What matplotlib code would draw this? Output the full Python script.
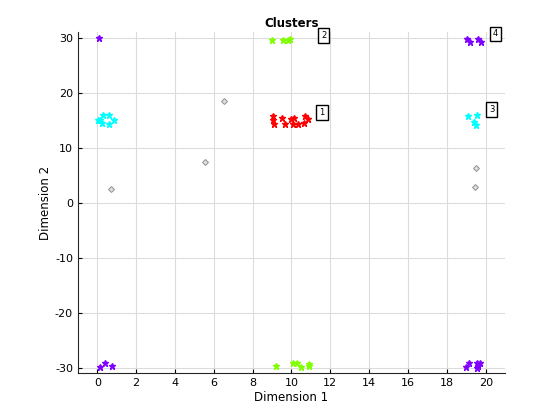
import numpy as np
import matplotlib
matplotlib.use('Agg')
import matplotlib.pyplot as plt

plt.rcParams['axes.unicode_minus'] = False
plt.rcParams['font.family'] = 'DejaVu Sans'

# cluster points (dimension 1, dimension 2)
c1_x = [9.07, 9.07, 9.1, 9.5, 9.67, 10.0, 10.14, 10.1, 10.35, 10.7, 10.87, 10.66]
c1_y = [15.7, 15.1, 14.4, 15.5, 14.3, 15.3, 15.5, 14.3, 14.3, 15.7, 15.3, 14.6]

c2_x = [9.01, 9.58, 9.84, 9.92, 9.2, 10.1, 10.3, 10.5, 10.92, 10.92]
c2_y = [29.6, 29.6, 29.6, 29.8, -29.6, -29.2, -29.2, -29.9, -29.3, -29.6]

c3_x = [0.02, 0.29, 0.58, 0.84, 0.58, 0.22, 0.12, 19.09, 19.55, 19.38, 19.48]
c3_y = [15.0, 16.0, 15.9, 15.1, 14.4, 14.5, 15.0, 15.7, 15.9, 14.7, 14.2]

c4_x = [0.1, 19.04, 19.2, 19.6, 19.78, 0.15, 0.38, 0.74,
        19.0, 19.14, 19.55, 19.7, 19.55, 19.6]
c4_y = [30.0, 29.8, 29.3, 29.8, 29.3, -29.8, -29.2, -29.6,
        -29.8, -29.2, -29.2, -29.2, -30.0, -29.6]

noise_x = [0.72, 5.55, 6.53, 19.52, 19.43]
noise_y = [2.5, 7.45, 18.5, 6.3, 2.85]

label_names = ['1', '2', '3', '4']
label_x = [11.57, 11.67, 20.3, 20.5]
label_y = [16.5, 30.4, 16.9, 30.7]

colors = ['#ff0000', '#80ff00', '#00ffff', '#8000ff']
clusters = [(c1_x, c1_y), (c2_x, c2_y), (c3_x, c3_y), (c4_x, c4_y)]

fig = plt.figure(figsize=(5.6, 4.2), dpi=100)
ax = fig.add_axes([0.139, 0.111, 0.763, 0.812])

ax.grid(True, color='#dcdcdc', linewidth=0.8)
ax.set_axisbelow(True)

ax.plot(noise_x, noise_y, linestyle='none', marker='D', markersize=3,
        markerfacecolor='#e0e0e0', markeredgecolor='#909090', markeredgewidth=0.7)

for (xs, ys), col in zip(clusters, colors):
    ax.plot(xs, ys, linestyle='none', marker='*', markersize=5,
            color=col, markeredgecolor=col)

for name, lx, ly in zip(label_names, label_x, label_y):
    ax.text(lx, ly, name, fontsize=6, ha='center', va='center',
            bbox=dict(boxstyle='square,pad=0.35', facecolor='white',
                      edgecolor='black', linewidth=1.0))

ax.set_xlim(-1, 21)
ax.set_ylim(-31, 31)
ax.set_xticks(np.arange(0, 21, 2))
ax.set_yticks(np.arange(-30, 31, 10))
ax.tick_params(direction='in', labelsize=8, length=3, top=False, right=False)
ax.spines['top'].set_visible(False)
ax.spines['right'].set_visible(False)
for s in ax.spines.values():
    s.set_color('#262626')
    s.set_linewidth(0.8)

ax.set_title('Clusters', fontsize=8.5, fontweight='bold', pad=4)
ax.set_xlabel('Dimension 1', fontsize=8.5, labelpad=2)
ax.set_ylabel('Dimension 2', fontsize=8.5, labelpad=2)

fig.savefig('out.png', dpi=100)
